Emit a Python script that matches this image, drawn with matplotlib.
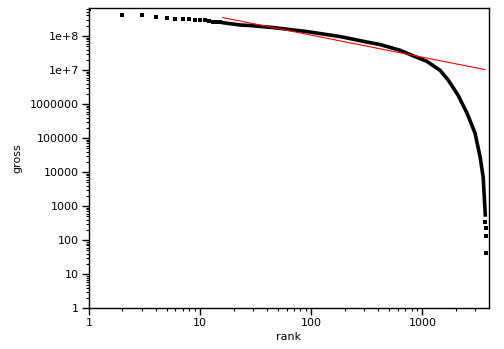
import matplotlib
matplotlib.use("Agg")
import matplotlib.pyplot as plt
from matplotlib.ticker import LogLocator, FixedLocator, NullFormatter

# top ranks drawn as separate points
top_rank = [1, 2, 3, 4, 5, 6, 7, 8, 9, 10, 11, 12, 13, 14, 15]
top_gross = [6.0e8, 4.25e8, 4.25e8, 3.7e8, 3.45e8, 3.25e8, 3.25e8, 3.2e8,
             3.0e8, 3.0e8, 2.95e8, 2.8e8, 2.65e8, 2.62e8, 2.6e8]

# the dense band of the remaining ranks
band_rank = [15, 16, 23, 28, 46, 91, 182, 275, 327, 416, 630, 830, 1096,
             1443, 1714, 2095, 2523, 2980, 3311, 3525, 3620, 3690]
band_gross = [2.6e8, 2.45e8, 2.1e8, 2.03e8, 1.76e8, 1.35e8, 9.6e7, 7.3e7,
              6.5e7, 5.6e7, 3.8e7, 2.6e7, 1.8e7, 9.8e6, 5.0e6, 1.82e6,
              5.4e5, 1.39e5, 2.75e4, 7.1e3, 1.5e3, 490]

# last few stray points at the tail
tail_rank = [3695, 3700, 3705, 3710]
tail_gross = [350, 227, 135, 43]

# fitted power-law line
fit_rank = [16, 3660]
fit_gross = [3.47e8, 1.03e7]

yticks = [1, 10, 100, 1000, 10000, 100000, 1000000, 1e7, 1e8]
ylabels = ["1", "10", "100", "1000", "10000", "100000", "1000000", "1e+7", "1e+8"]
xticks = [1, 10, 100, 1000]
xlabels = ["1", "10", "100", "1000"]

fig = plt.figure(figsize=(5.04, 3.49), dpi=100)
ax = fig.add_axes([0.1766, 0.1166, 0.7937, 0.8596])

ax.plot(band_rank, band_gross, color="black", lw=2.6, solid_capstyle="butt")
ax.plot(top_rank, top_gross, "s", color="black", ms=2.3, mew=0)
ax.plot(tail_rank, tail_gross, "s", color="black", ms=2.3, mew=0)
ax.plot(fit_rank, fit_gross, color="red", lw=0.8)

ax.set_xscale("log")
ax.set_yscale("log")
ax.set_xlim(1, 3980)
ax.set_ylim(1, 6.5e8)

ax.yaxis.set_major_locator(FixedLocator(yticks))
ax.set_yticklabels(ylabels)
ax.xaxis.set_major_locator(FixedLocator(xticks))
ax.set_xticklabels(xlabels)
ax.xaxis.set_minor_locator(LogLocator(base=10, subs=range(2, 10), numticks=20))
ax.yaxis.set_minor_locator(LogLocator(base=10, subs=range(2, 10), numticks=20))
ax.xaxis.set_minor_formatter(NullFormatter())
ax.yaxis.set_minor_formatter(NullFormatter())

ax.tick_params(which="major", direction="out", length=5, width=1, labelsize=8, pad=2)
ax.tick_params(which="minor", direction="out", length=2.5, width=0.8)
for s in ax.spines.values():
    s.set_linewidth(1)

ax.set_xlabel("rank", fontsize=8, labelpad=3)
ax.set_ylabel("gross", fontsize=8, labelpad=6)

fig.savefig("out.png", dpi=100)
